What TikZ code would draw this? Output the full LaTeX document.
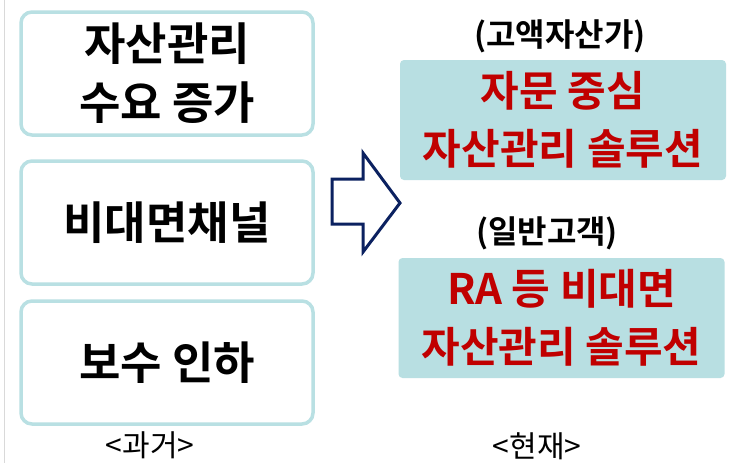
\documentclass[tikz,border=0pt]{standalone}
\usepackage{fontspec}
\setmainfont{Noto Sans CJK KR}
\newfontfamily\krb{Noto Sans CJK KR Bold}
\newfontfamily\krr{Noto Sans CJK KR}
\definecolor{tealborder}{HTML}{B9E0E3}
\definecolor{tealfill}{HTML}{B8DFE2}
\definecolor{darkred}{HTML}{C00000}
\definecolor{navy}{HTML}{0B2160}
\tikzset{
  leftbox/.style={draw=tealborder, line width=3.5pt, rounded corners=11pt, fill=white,
    minimum width=292pt, minimum height=123pt, inner sep=0pt,
    align=center, font=\krb\fontsize{45}{59}\selectfont, text=black},
  rightbox/.style={fill=tealfill, rounded corners=4pt,
    minimum width=326pt, minimum height=120pt, inner sep=0pt,
    align=center, font=\krb\fontsize{42}{58}\selectfont, text=darkred},
  grouplabel/.style={inner sep=0pt, font=\krb\fontsize{32}{34}\selectfont, text=black},
  periodlabel/.style={inner sep=0pt, font=\krr\fontsize{30}{34}\selectfont, text=black},
}
\begin{document}
\begin{tikzpicture}[x=1pt, y=-1pt]
\useasboundingbox (0,0) rectangle (731,463);
\fill[white] (0,0) rectangle (731,463);
\draw[black!15, line width=1pt] (4,0) -- (4,463);

\node[leftbox] (past1) at (167,73.5) {자산관리\\수요 증가};
\node[leftbox] (past2) at (167,222.5) {비대면채널};
\node[leftbox] (past3) at (167,362.5) {보수 인하};

\node[rightbox] (now1) at (563,120) {자문 중심\\자산관리 솔루션};
\node[rightbox] (now2) at (561.5,318) {RA 등 비대면\\자산관리 솔루션};

\node[grouplabel] (lab1) at (560,36) {(고액자산가)};
\node[grouplabel] (lab2) at (547,233) {(일반고객)};

\node[periodlabel] (pastlab) at (150,445) {<과거>};
\node[periodlabel] (nowlab) at (537,446) {<현재>};

\draw[navy, line width=3pt, fill=white, line join=miter]
  (332,179) -- (363,179) -- (363,153) -- (400,203) -- (363,252) -- (363,224) -- (332,224) -- cycle;
\end{tikzpicture}
\end{document}
